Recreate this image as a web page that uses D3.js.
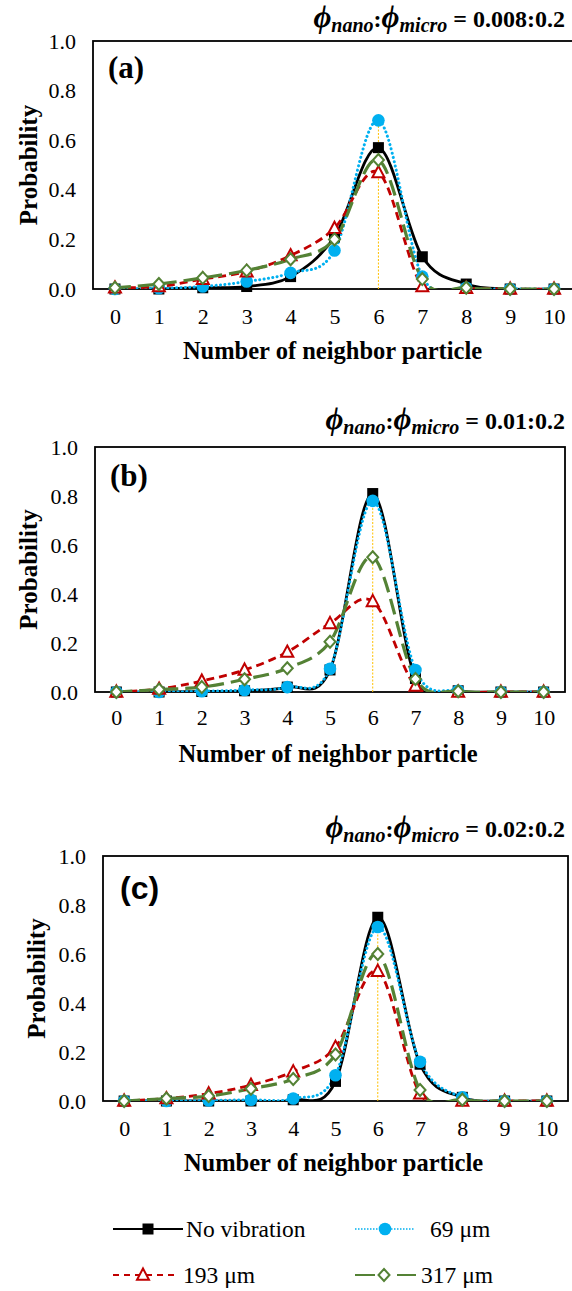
<!DOCTYPE html>
<html><head><meta charset="utf-8">
<script src="https://cdn.jsdelivr.net/npm/d3@7"></script>
<style>
html,body{margin:0;padding:0;background:#fff;}
svg{display:block;}
</style></head>
<body>
<script>
// ---------- DATA ----------
const categories = [0,1,2,3,4,5,6,7,8,9,10];
const yTicks = [0,0.2,0.4,0.6,0.8,1.0];
const seriesNames = ["No vibration","69 μm","193 μm","317 μm"];
const panelLabels = ["(a)","(b)","(c)"];
const ratioLabels = ["0.008:0.2","0.01:0.2","0.02:0.2"];
const xTitles = ["Number of  neighbor particle","Number of neighbor particle","Number of neighbor particle"];

// panel (a)
const a_noVib = [0.0,0.0,0.005,0.01,0.05,0.21,0.57,0.13,0.02,0.0,0.0];
const a_69    = [0.0,0.003,0.01,0.03,0.065,0.155,0.68,0.05,0.005,0.0,0.0];
const a_193   = [0.005,0.01,0.04,0.07,0.135,0.245,0.47,0.01,0.003,0.0,0.0];
const a_317   = [0.005,0.02,0.045,0.075,0.12,0.20,0.52,0.04,0.005,0.0,0.0];
// panel (b)
const b_noVib = [0.0,0.0,0.002,0.005,0.02,0.09,0.81,0.055,0.005,0.0,0.0];
const b_69    = [0.0,0.0,0.003,0.008,0.02,0.095,0.78,0.09,0.005,0.0,0.0];
const b_193   = [0.0,0.012,0.045,0.09,0.163,0.28,0.37,0.025,0.0,0.0,0.0];
const b_317   = [0.0,0.01,0.02,0.052,0.097,0.205,0.55,0.053,0.003,0.0,0.0];
// panel (c)
const c_noVib = [0.0,0.0,0.0,0.0,0.005,0.08,0.75,0.15,0.015,0.0,0.0];
const c_69    = [0.0,0.0,0.002,0.005,0.01,0.105,0.71,0.16,0.015,0.0,0.0];
const c_193   = [0.0,0.01,0.03,0.065,0.12,0.22,0.53,0.03,0.0,0.0,0.0];
const c_317   = [0.0,0.01,0.02,0.05,0.09,0.19,0.60,0.045,0.005,0.0,0.0];

const panelData = [
  [a_noVib,a_69,a_193,a_317],
  [b_noVib,b_69,b_193,b_317],
  [c_noVib,c_69,c_193,c_317]
];
const dropLineX = 6;

// ---------- STYLE / LAYOUT ----------
const W = 572, H = 1291;
const SERIF = "Liberation Serif";
const SANS = "Liberation Sans";
const styles = [
  {color:"#000000", dash:null, width:2.8, marker:"square", cap:"butt"},
  {color:"#00B0F0", dash:"0.1,4.3", width:3, marker:"circle", cap:"round"},
  {color:"#C00000", dash:"8,5", width:2.8, marker:"triangle", cap:"butt"},
  {color:"#548235", dash:"16,7", width:3.2, marker:"diamond", cap:"butt"}
];
const layouts = [
  {left:93, right:576, top:41, bottom:289, head:27, tick:324, xt:359, yt:28, lab:{x:108,y:78,sans:false}},
  {left:95, right:565, top:447, bottom:692, head:429, tick:725, xt:762, yt:28, lab:{x:110,y:486,sans:false}},
  {left:103, right:568, top:856, bottom:1101, head:837, tick:1136, xt:1171, yt:36, lab:{x:120,y:899,sans:true}}
];

const svg = d3.select("body").append("svg").attr("width",W).attr("height",H);

function txt(sel, family){ return sel.style("font-family", family || SERIF); }

function drawMarker(g, type, x, y, color){
  if(type==="square"){
    g.append("rect").attr("x",x-5.5).attr("y",y-5.5).attr("width",11).attr("height",11)
      .attr("fill",color);
  } else if(type==="circle"){
    g.append("circle").attr("cx",x).attr("cy",y).attr("r",6.3).attr("fill",color);
  } else if(type==="triangle"){
    g.append("path").attr("d",`M${x},${y-6.5}L${x+6},${y+4.8}L${x-6},${y+4.8}Z`)
      .attr("fill","#fff").attr("stroke",color).attr("stroke-width",2);
  } else if(type==="diamond"){
    g.append("path").attr("d",`M${x},${y-6}L${x+5.5},${y}L${x},${y+6}L${x-5.5},${y}Z`)
      .attr("fill","#fff").attr("stroke",color).attr("stroke-width",2);
  }
}

panelData.forEach((series, pi) => {
  const L = layouts[pi];
  const g = svg.append("g");
  const x = d3.scalePoint().domain(categories).range([L.left, L.right]).padding(0.5);
  const y = d3.scaleLinear().domain([0,1]).range([L.bottom, L.top]);

  const clipId = "clip"+pi;
  svg.append("clipPath").attr("id",clipId).append("rect")
    .attr("x",L.left).attr("y",L.top).attr("width",L.right-L.left).attr("height",L.bottom-L.top);

  // y axis labels
  const ya = d3.axisLeft(y).tickValues(yTicks).tickFormat(d3.format(".1f")).tickSize(0).tickPadding(17);
  const yg = g.append("g").attr("transform",`translate(${L.left},0)`).call(ya);
  yg.select(".domain").remove();
  txt(yg.selectAll("text")).style("font-size","22px").attr("fill","#000");

  // x axis labels
  const xa = d3.axisBottom(x).tickSize(0).tickPadding(0);
  const xg = g.append("g").attr("transform",`translate(0,${L.tick})`).call(xa);
  xg.select(".domain").remove();
  txt(xg.selectAll("text")).style("font-size","22px").attr("fill","#000").attr("dy","0");

  // frame
  g.append("rect").attr("x",L.left).attr("y",L.top).attr("width",L.right-L.left).attr("height",L.bottom-L.top)
    .attr("fill","none").attr("stroke","#000").attr("stroke-width",1.8);

  // drop line
  const peak = d3.max(series, s => s[categories.indexOf(dropLineX)]);
  g.append("line").attr("x1",x(dropLineX)).attr("x2",x(dropLineX)).attr("y1",y(0)).attr("y2",y(peak))
    .attr("stroke","#FFC000").attr("stroke-width",1).attr("stroke-dasharray","2,1.5");

  // series
  const line = d3.line().x((d,i)=>x(categories[i])).y(d=>y(d)).curve(d3.curveCardinal.tension(0));
  const cg = g.append("g").attr("clip-path",`url(#${clipId})`);
  series.forEach((vals, si) => {
    const st = styles[si];
    cg.append("path").datum(vals).attr("d",line).attr("fill","none")
      .attr("stroke",st.color).attr("stroke-width",st.width)
      .attr("stroke-dasharray",st.dash).attr("stroke-linecap",st.cap);
    vals.forEach((v,i)=> drawMarker(g, st.marker, x(categories[i]), y(v), st.color));
  });

  // panel label
  txt(g.append("text"), L.lab.sans?SANS:SERIF).attr("x",L.lab.x).attr("y",L.lab.y)
    .style("font-weight","bold").style("font-size",(L.lab.sans?32:31)+"px").text(panelLabels[pi]);

  // x title
  txt(g.append("text")).attr("x",(L.left+L.right)/2 - 2).attr("y",L.xt).attr("text-anchor","middle")
    .style("font-weight","bold").style("font-size","24.5px").text(xTitles[pi]);

  // y title
  txt(g.append("text")).attr("transform",`translate(${L.yt},${(L.top+L.bottom)/2}) rotate(-90)`)
    .attr("text-anchor","middle").attr("dy","0.35em")
    .style("font-weight","bold").style("font-size","25px").text("Probability");

  // heading
  const h = txt(g.append("text")).attr("x",565).attr("y",L.head).attr("text-anchor","end")
    .style("font-weight","bold").style("font-size","24px");
  h.append("tspan").style("font-style","italic").style("font-size","31px").text("ϕ");
  h.append("tspan").style("font-style","italic").style("font-size","20px").attr("dy",5).text("nano");
  h.append("tspan").attr("dy",-5).text(":");
  h.append("tspan").style("font-style","italic").style("font-size","31px").text("ϕ");
  h.append("tspan").style("font-style","italic").style("font-size","20px").attr("dy",5).text("micro");
  h.append("tspan").attr("dy",-5).text(" = " + ratioLabels[pi]);
});

// ---------- LEGEND ----------
const legendPos = [
  {x1:113, x2:183, mx:148, y:1229, tx:186},
  {x1:355, x2:415, mx:385, y:1229, tx:430},
  {x1:113, x2:175, mx:143, y:1275, tx:183},
  {x1:355, x2:416, mx:384, y:1275, tx:421}
];
const legendDash = [null, "1.5,1.5", "6,5", "20,22,19"];
const legendWidth = [2, 1.6, 2.2, 2.2];
const lg = svg.append("g");
seriesNames.forEach((name, i) => {
  const p = legendPos[i], st = styles[i];
  lg.append("line").attr("x1",p.x1).attr("x2",p.x2).attr("y1",p.y).attr("y2",p.y)
    .attr("stroke",st.color).attr("stroke-width",legendWidth[i])
    .attr("stroke-dasharray", legendDash[i]);
  drawMarker(lg, st.marker, p.mx, p.y, st.color);
  txt(lg.append("text")).attr("x",p.tx).attr("y",p.y).attr("dy","0.35em")
    .style("font-size","23.5px").text(name);
});
</script>
</body></html>
